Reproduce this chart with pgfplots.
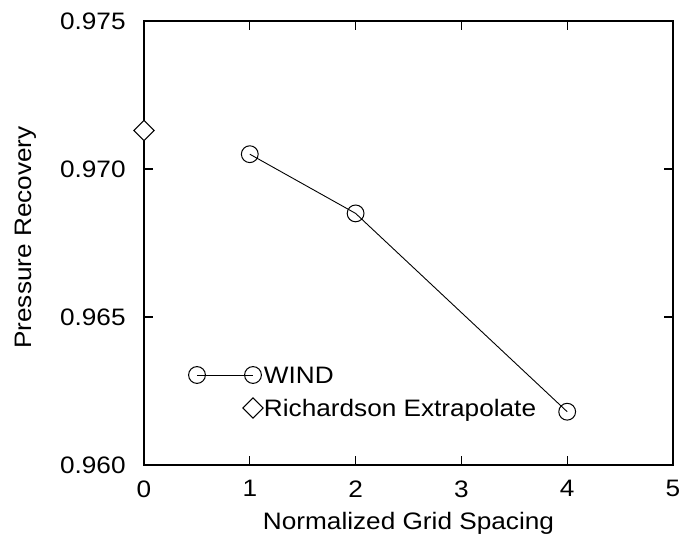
\documentclass[border=0pt]{standalone}
\usepackage{fontspec}
\setmainfont{Liberation Sans}[FakeStretch=1.1]
\usepackage{pgfplots}
\pgfplotsset{compat=1.18}

% legend images: circles at both ends of a short line / diamond at the right end
\pgfplotsset{
    windlegend/.style={legend image code/.code={
        \pgfpathrectangle{\pgfpoint{-6pt}{-8.25pt}}{\pgfpoint{40pt}{16.5pt}}\pgfusepath{}
        \draw[#1] plot coordinates {(0pt,0pt) (28pt,0pt)};
    }},
    richlegend/.style={legend image code/.code={
        \pgfpathrectangle{\pgfpoint{-6pt}{-8.25pt}}{\pgfpoint{40pt}{16.5pt}}\pgfusepath{}
        \draw[#1] plot coordinates {(28pt,0pt)};
    }},
}

\begin{document}
\fontsize{11.9}{14}\selectfont
\begin{tikzpicture}
\useasboundingbox (-72pt,-37pt) rectangle (268pt,232.5pt);
\begin{axis}[
    scale only axis,
    width=264.5pt, height=222pt,
    xmin=0, xmax=5, ymin=0.960, ymax=0.975,
    xtick={0,1,2,3,4,5},
    xticklabels={\mbox{0},\mbox{1},\mbox{2},\mbox{3},\mbox{4},\mbox{5}},
    ytick={0.960,0.965,0.970,0.975},
    yticklabels={\mbox{0.960},\mbox{0.965},\mbox{0.970},\mbox{0.975}},
    tick label style={font=\fontsize{11.9}{14}\selectfont},
    label style={font=\fontsize{11.9}{14}\selectfont},
    tick align=inside,
    major tick length=4.5pt,
    axis line style={line width=0.6pt, black},
    tick style={line width=0.6pt, black},
    xticklabel style={anchor=north, inner sep=0pt, yshift=-7.5pt},
    yticklabel style={anchor=east, inner sep=0pt, xshift=-9pt},
    xlabel={Normalized Grid Spacing},
    ylabel={Pressure Recovery},
    every axis x label/.style={at={(rel axis cs:0.5,0)}, anchor=base, yshift=-32.5pt},
    every axis y label/.style={at={(rel axis cs:0,0.5)}, rotate=90, anchor=base,
        yshift=56pt, xshift=2.75pt},
    clip=false,
    legend cell align=left,
    legend style={
        draw=none, fill=none, inner sep=0pt, outer sep=0pt,
        at={(rel axis cs:0,0)}, anchor=north west,
        xshift=20.5pt, yshift=53.25pt,
        /tikz/column sep=-0.5pt, /tikz/row sep=0pt,
        nodes={inner sep=0pt, anchor=west, text depth=0pt,
            font=\fontsize{11.9}{14}\selectfont},
    },
]
% WIND
\addplot[black, line width=0.45pt, mark=o, mark size=4.2pt,
    mark options={fill=white, line width=0.5pt}, windlegend] coordinates {
    (1, 0.9705)
    (2, 0.9685)
    (4, 0.9618)
};
% Richardson extrapolate
\addplot[black, only marks, mark=square*, mark size=3.6pt,
    mark options={fill=white, rotate=45, line width=0.5pt}, richlegend] coordinates {
    (0, 0.9713)
};
\legend{WIND, Richardson Extrapolate}
\end{axis}
\end{tikzpicture}
\end{document}
